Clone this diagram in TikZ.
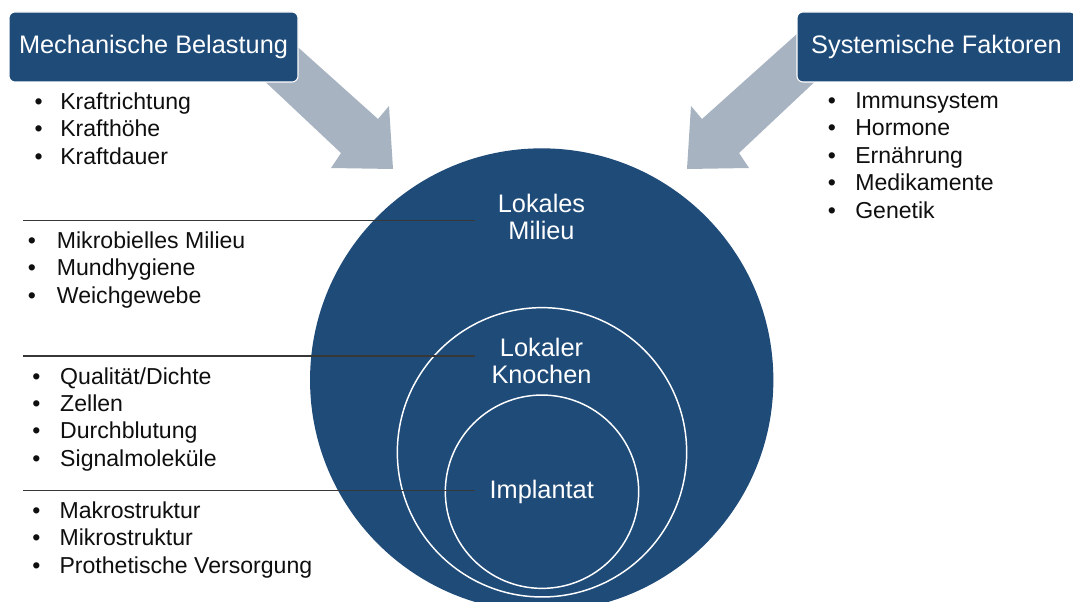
\documentclass[tikz,border=0pt]{standalone}
\usepackage{fontspec}
\setmainfont{Liberation Sans}
\definecolor{navy}{RGB}{31,75,121}
\definecolor{arrowgray}{RGB}{167,179,193}
\definecolor{txt}{RGB}{15,15,15}
\definecolor{rulecol}{RGB}{55,55,55}
\newlength\bw
\newcommand\bi{\makebox[\bw][l]{•}}
\begin{document}
\begin{tikzpicture}[x=0.75pt,y=-0.75pt,
  hdr/.style={fill=navy, draw=white, line width=0.8pt, rounded corners=4.5pt, text=white,
    font=\fontsize{19}{23}\selectfont, inner sep=0pt, minimum height=52.5pt},
  lbl/.style={text=white, font=\fontsize{19}{20}\selectfont, inner sep=0pt, anchor=base},
  lst/.style={text=txt, font=\fontsize{17.3}{20.6}\selectfont, inner sep=0pt, anchor=base west},
  blk/.style={fill=arrowgray},
  disc/.style={circle, fill=navy, inner sep=0pt},
  ring/.style={circle, draw=white, line width=1.1pt, inner sep=0pt},
  leader/.style={draw=rulecol, line width=0.9pt}]
\useasboundingbox (0,0) rectangle (1073,602);
\clip (0,0) rectangle (1073,602);
\fill[white] (0,0) rectangle (1073,602);

% block arrows
\fill[blk] (272,24) -- (378,119) -- (389,106) -- (393,169) -- (331,168) -- (341,153) -- (240,58) -- cycle;
\fill[blk] (808,24) -- (702,119) -- (691,106) -- (687,169) -- (749,168) -- (739,153) -- (840,58) -- cycle;

% header boxes
\node[hdr, minimum width=216.75pt] (mb) at (153.5,47) {Mechanische Belastung};
\node[hdr, minimum width=209.25pt] (sf) at (936.5,47) {Systemische Faktoren};

% circles
\node[disc, minimum size=347.5pt] (outer) at (541.7,380) {};
\node[ring, minimum size=217pt] (mid) at (542,452.3) {};
\node[ring, minimum size=145pt] (inner) at (542,491.7) {};

% leader lines
\coordinate (l1a) at (23,220.7);  \coordinate (l1b) at (475,220.7);
\coordinate (l2a) at (23,356);    \coordinate (l2b) at (475,356);
\coordinate (l3a) at (23,490.7);  \coordinate (l3b) at (475,490.7);
\draw[leader] (l1a) -- (l1b);
\draw[leader] (l2a) -- (l2b);
\draw[leader] (l3a) -- (l3b);

% circle labels
\node[lbl] (milieu) at (541.5,212.7) {\begin{tabular}[t]{@{}c@{}}Lokales\\Milieu\end{tabular}};
\node[lbl] (knochen) at (541.5,356.7) {\begin{tabular}[t]{@{}c@{}}Lokaler\\Knochen\end{tabular}};
\node[lbl] (impl) at (541.7,498.3) {Implantat};

% lists
\node[lst] (listmech) at (34.3,109.3) {\setlength\bw{19.3pt}\begin{tabular}[t]{@{}l@{}}\bi Kraftrichtung\\\bi Krafthöhe\\\bi Kraftdauer\end{tabular}};
\node[lst] (listsys) at (827.7,108.3) {\setlength\bw{20.5pt}\begin{tabular}[t]{@{}l@{}}\bi Immunsystem\\\bi Hormone\\\bi Ernährung\\\bi Medikamente\\\bi Genetik\end{tabular}};
\node[lst] (listmil) at (27.7,248.3) {\setlength\bw{21.7pt}\begin{tabular}[t]{@{}l@{}}\bi Mikrobielles Milieu\\\bi Mundhygiene\\\bi Weichgewebe\end{tabular}};
\node[lst] (listkno) at (32,384) {\setlength\bw{21pt}\begin{tabular}[t]{@{}l@{}}\bi Qualität/Dichte\\\bi Zellen\\\bi Durchblutung\\\bi Signalmoleküle\end{tabular}};
\node[lst] (listimp) at (32,518.3) {\setlength\bw{20.5pt}\begin{tabular}[t]{@{}l@{}}\bi Makrostruktur\\\bi Mikrostruktur\\\bi Prothetische Versorgung\end{tabular}};
\end{tikzpicture}
\end{document}
